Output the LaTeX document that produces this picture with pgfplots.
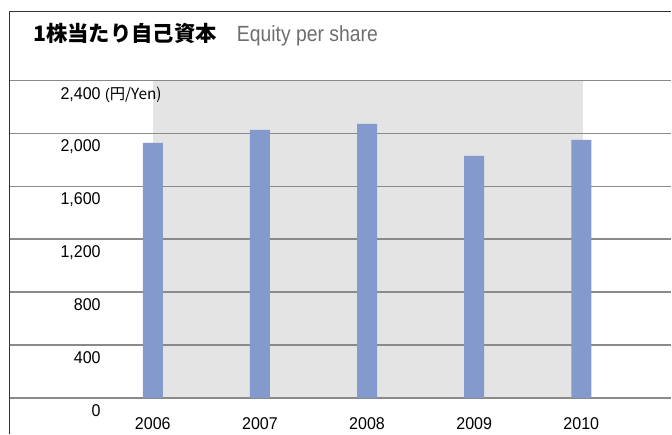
\documentclass[border=0pt]{standalone}
\usepackage{fontspec}
\setmainfont{Liberation Sans}
\newfontfamily\cjk{Noto Sans CJK JP}
\newfontfamily\condfont{Liberation Sans}[FakeStretch=0.88]
\newfontfamily\tickfont{Liberation Sans}[FakeStretch=0.94]
\usepackage{pgfplots}
\pgfplotsset{compat=1.18}
\definecolor{barblue}{HTML}{8499CC}
\definecolor{bggray}{HTML}{E4E4E4}
\definecolor{gridgray}{HTML}{8A8A8A}
\definecolor{framegray}{HTML}{333333}
\definecolor{subgray}{HTML}{6E6E6E}
\pgfplotsset{
  eqaxis/.style={
    at={(7.5pt,27.5pt)}, anchor=south west,
    scale only axis,
    width=496.5pt, height=238.15pt,
    xmin=-1.333, xmax=4.839,
    ymin=0, ymax=2400,
    clip=false,
  }
}
\begin{document}
\begin{tikzpicture}
\path (0,0) rectangle (504pt,326.25pt);
% frame: left and top edges only
\draw[framegray, line width=0.75pt] (7.5pt,0) -- (7.5pt,317.25pt) -- (504pt,317.25pt);
% title
\node[anchor=base west, inner sep=0pt] at (24.75pt,294.75pt)
  {\fontsize{16}{19}\selectfont\cjk\bfseries 1株当たり自己資本};
\node[anchor=base west, inner sep=0pt, text=subgray] at (177.75pt,294.75pt)
  {\fontsize{16.5}{19}\selectfont\condfont Equity per share};
% shaded band behind the grid
\begin{axis}[eqaxis, hide axis]
\addplot[fill=bggray, draw=none]
    coordinates {(0,2400) (4.02,2400)} \closedcycle;
\end{axis}
\begin{axis}[
    eqaxis,
    xtick={0,1,2,3,4},
    xticklabels={2006,2007,2008,2009,2010},
    ytick={0,400,800,1200,1600,2000,2400},
    yticklabels={0,400,800,{1,200},{1,600},{2,000},{2,400\rlap{ \fontsize{11.5}{13}\selectfont(\cjk{円}/Yen)}}},
    /pgf/number format/assume math mode=true,
    ymajorgrids,
    grid style={gridgray, line width=1.2pt},
    axis line style={draw=none},
    major tick length=0pt,
    tick label style={font=\fontsize{12.8}{14}\selectfont\tickfont, text=black},
    yticklabel style={anchor=north east, inner sep=0pt, xshift=68.25pt, yshift=-4.5pt},
    xticklabel style={anchor=north, inner sep=0pt, yshift=-14.5pt},
]
\addplot[ybar, bar width=15pt, fill=barblue, draw=none]
    coordinates {(0,1930) (1,2028) (2,2073) (3,1831) (4,1952)};
\end{axis}
\end{tikzpicture}
\end{document}
